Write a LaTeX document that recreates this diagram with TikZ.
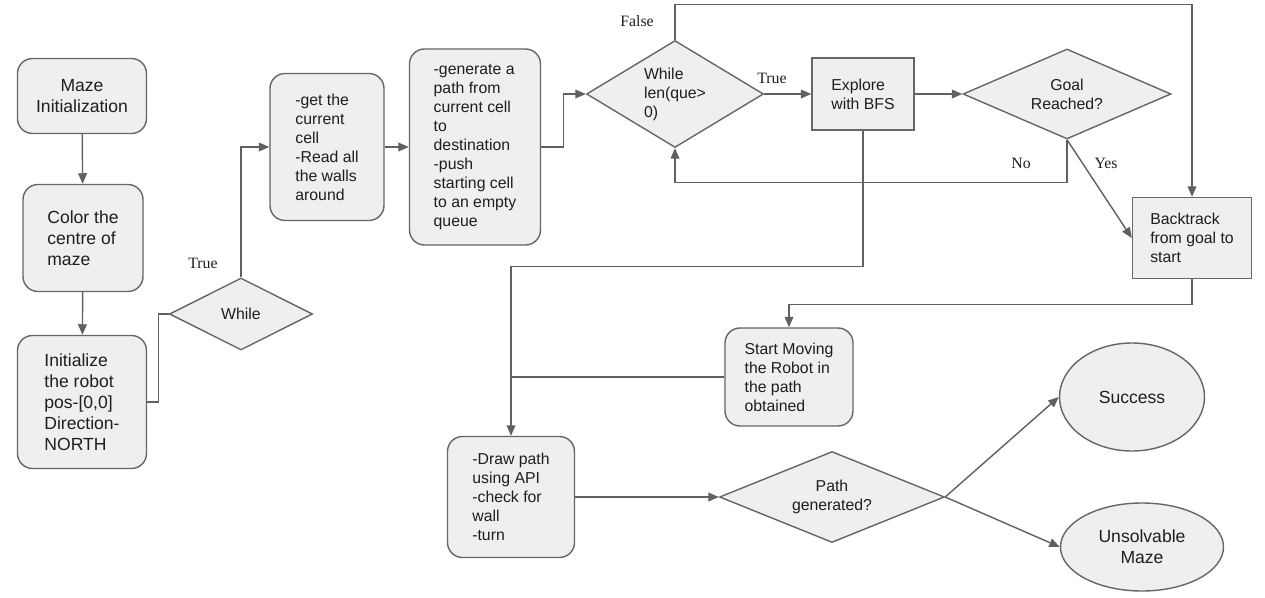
\documentclass[tikz,border=0pt]{standalone}
\usepackage{fontspec}
\setmainfont{Liberation Sans}
\newfontfamily\serifl{Liberation Serif}
\usetikzlibrary{shapes.geometric,arrows.meta}
\definecolor{boxfill}{RGB}{239,239,239}
\definecolor{boxline}{RGB}{102,102,102}
\definecolor{arrline}{RGB}{96,96,96}
\definecolor{txt}{RGB}{30,30,30}
\tikzset{
  sz/.style 2 args={minimum width=#1*0.02cm, minimum height=#2*0.02cm},
  base/.style={draw=boxline, fill=boxfill, line width=0.8pt, inner sep=0pt, text=txt},
  rbox/.style={base, rectangle, rounded corners=0.3cm, align=left},
  sbox/.style={base, rectangle, align=left},
  dia/.style={base, diamond},
  ell/.style={base, ellipse, align=center},
  big/.style={font=\fontsize{10}{12}\selectfont},
  small/.style={font=\fontsize{9}{10.8}\selectfont},
  conn/.style={draw=arrline, line width=0.8pt},
  arr/.style={conn, -{Triangle[length=6pt,width=5pt]}},
  lab/.style={font=\serifl\fontsize{9}{10.8}\selectfont, text=txt, inner sep=0pt}
}
\begin{document}
\begin{tikzpicture}[x=0.02cm, y=-0.02cm]
\useasboundingbox (0,0) rectangle (1265,598);
% left column
\node[rbox, big, sz={129}{75}, align=center] (m1) at (82,96) {Maze\\Initialization};
\node[rbox, big, sz={120}{107}] (m2) at (83,238) {Color the\\centre of\\maze};
\node[rbox, big, sz={129}{133}] (m3) at (82,402) {Initialize\\the robot\\pos-[0,0]\\Direction-\\NORTH};
\node[dia, sz={143}{72}, label={[small, text=txt]center:While}] (w1) at (241,314) {};
% top row
\node[rbox, small, sz={114}{147}] (g5) at (327,147) {-get the\\current\\cell\\-Read all\\the walls\\around};
\node[rbox, small, sz={131}{196}] (g6) at (475,147) {-generate a\\path from\\current cell\\to\\destination\\-push\\starting cell\\to an empty\\queue};
\node[dia, sz={177}{107}, label={[small, text=txt, align=left]center:While\\len(que>\\0)}] (w2) at (675,94) {};
\node[sbox, small, sz={102}{72}] (ex) at (863,94) {Explore\\with BFS};
\node[dia, sz={208}{90}, label={[small, text=txt, align=center]center:Goal\\Reached?}] (goal) at (1067,94) {};
\node[sbox, small, sz={119}{81}] (bt) at (1192,238) {Backtrack\\from goal to\\start};
% lower part
\node[rbox, small, sz={128}{98}] (sm) at (789,377) {Start Moving\\the Robot in\\the path\\obtained};
\node[rbox, small, sz={127}{121}] (dp) at (511,497) {-Draw path\\using API\\-check for\\wall\\-turn};
\node[dia, sz={225}{91}, label={[small, text=txt, align=center]center:Path\\generated?}] (pg) at (832,497) {};
\node[ell, big, sz={145}{108}] (su) at (1132,397) {Success};
\node[ell, big, sz={163}{88}] (un) at (1142,547) {Unsolvable\\Maze};
% connectors
\draw[arr] (m1) -- (m2);
\draw[arr] (m2) -- (m3);
\draw[conn] (m3.east) -- ++(11,0) |- (w1.west);
\draw[arr] (w1.north) |- (g5.west);
\draw[arr] (g5) -- (g6);
\draw[arr] (g6.east) -- ++(22,0) |- (w2.west);
\draw[arr] (w2.east) -- (ex.west);
\draw[arr] (w2.north) -- ++(0,-35) -| (bt.north);
\draw[arr] (ex.east) -- (goal.west);
\draw[arr] (goal.south) -- ++(0,43) -| (w2.south);
\draw[arr] (goal.south) -- (bt.west);
\draw[arr] (bt.south) -- ++(0,25) -| (sm.north);
\draw[arr] (ex.south) -- ++(0,136) -| (dp.north);
\coordinate (jn) at (sm.west -| dp.north);
\draw[conn] (sm.west) -- (jn);
\draw[arr] (dp.east) -- (pg.west);
\draw[arr] (pg.east) -- (su.west);
\draw[arr] (pg.east) -- (un.west);
% labels
\node[lab] (t1) at (203,263) {True};
\node[lab] (f1) at (637,21) {False};
\node[lab] (t2) at (772,78) {True};
\node[lab] (no) at (1021,163) {No};
\node[lab] (yes) at (1106,163) {Yes};
\end{tikzpicture}
\end{document}
